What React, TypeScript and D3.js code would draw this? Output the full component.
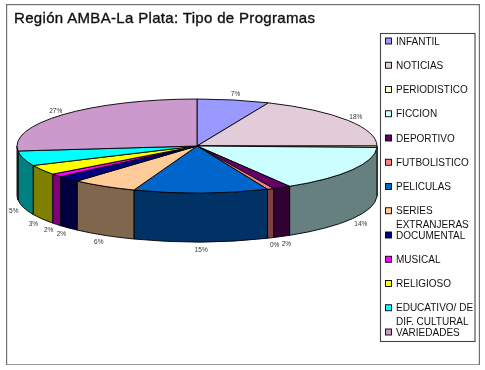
import React from "react";
import * as d3 from "d3";

const categories = ["INFANTIL","NOTICIAS","PERIODISTICO","FICCION","DEPORTIVO","FUTBOLISTICO","PELICULAS","SERIES EXTRANJERAS","DOCUMENTAL","MUSICAL","RELIGIOSO","EDUCATIVO/ DE DIF. CULTURAL","VARIEDADES"];
// Shares as read from the drawn slice edges
const shares = [6.5,18.5,0.5,15.9,1.6,0.6,12.1,5.9,2.1,1.1,3.4,5.1,26.7];
// Percent labels printed on the picture
const percentLabels = ["7%","18%","","14%","2%","0%","15%","6%","2%","2%","3%","5%","27%"];
const topColors = ["#9999ff","#e3ccd9","#ffffcc","#ccffff","#660066","#ff8080","#0066cc","#ffcc99","#000080","#ff00ff","#ffff00","#00ffff","#cc99cc"];
const sideColors = ["#4d4d80","#72666d","#808066","#668080","#330033","#804040","#003366","#80664d","#000040","#800080","#808000","#008080","#664d66"];
const legendLines = [["INFANTIL"],["NOTICIAS"],["PERIODISTICO"],["FICCION"],["DEPORTIVO"],["FUTBOLISTICO"],["PELICULAS"],["SERIES","EXTRANJERAS"],["DOCUMENTAL"],["MUSICAL"],["RELIGIOSO"],["EDUCATIVO/ DE","DIF. CULTURAL"],["VARIEDADES"]];

const cx = 197, cy = 146, rx = 180, ry = 47, depth = 49;
const FONT = "'Liberation Sans', Arial, sans-serif";

const pt = (a: number, dy = 0) => [cx + rx * Math.sin(a), cy - ry * Math.cos(a) + dy];

export default function App() {
  const arcs = d3.pie<number>().sort(null)(shares);
  const legendY = d3.scaleLinear().domain([0, categories.length - 1]).range([41, 332]);
  const wall = (a0: number, a1: number) => {
    const s = Math.max(a0, Math.PI / 2), e = Math.min(a1, 3 * Math.PI / 2);
    if (e <= s) return null;
    const [x0, y0] = pt(s), [x1, y1] = pt(e);
    return `M${x0},${y0}A${rx},${ry} 0 0 1 ${x1},${y1}L${x1},${y1 + depth}A${rx},${ry} 0 0 0 ${x0},${y0 + depth}Z`;
  };
  const slice = (a0: number, a1: number) => {
    const [x0, y0] = pt(a0), [x1, y1] = pt(a1);
    return `M${cx},${cy}L${x0},${y0}A${rx},${ry} 0 ${a1 - a0 > Math.PI ? 1 : 0} 1 ${x1},${y1}Z`;
  };
  return (
    <svg width={485} height={370} style={{ position: "absolute", left: 0, top: 0, background: "#fff" }}>
      <defs>
        <filter id="soft" x="0" y="0" width="100%" height="100%">
          <feGaussianBlur stdDeviation={0.4} />
        </filter>
      </defs>
      <g filter="url(#soft)">
        <rect x={6.5} y={4.5} width={473} height={360.5} fill="#fff" stroke="#707070" strokeWidth={1.4} />
        <text x={14} y={23} fontFamily={FONT} fontSize={15} fontWeight={400} stroke="#111" strokeWidth={0.35} fill="#111" textLength={301} lengthAdjust="spacing">Región AMBA-La Plata: Tipo de Programas</text>
        <g stroke="#000" strokeWidth={0.9} strokeLinejoin="round">
          {arcs.map((d, i) => {
            const p = wall(d.startAngle, d.endAngle);
            return p ? <path key={i} d={p} fill={sideColors[i]} /> : null;
          })}
          {arcs.map((d, i) => (
            <path key={i} d={slice(d.startAngle, d.endAngle)} fill={topColors[i]} />
          ))}
        </g>
        <g fontFamily={FONT} fontSize={6.5} fill="#333" textAnchor="middle">
          {arcs.map((d, i) => {
            const m = (d.startAngle + d.endAngle) / 2;
            const front = Math.cos(m) < 0;
            const x = cx + 190 * Math.sin(m);
            const y = cy - 53 * Math.cos(m) + (front ? depth + 2 : 0) + 2;
            return <text key={i} x={x} y={y}>{percentLabels[i]}</text>;
          })}
        </g>
        <rect x={380.5} y={33.5} width={94.5} height={308} fill="#fff" stroke="#444" strokeWidth={1.1} />
        <g fontFamily={FONT} fontSize={10} fill="#111">
          {categories.map((c, i) => {
            const y = legendY(i);
            return (
              <g key={c}>
                <rect x={385.5} y={y - 3} width={6} height={6} fill={topColors[i]} stroke="#000" strokeWidth={0.9} />
                {legendLines[i].map((l, j) => (
                  <text key={l} x={396} y={y + 3.5 + j * 14}>{l}</text>
                ))}
              </g>
            );
          })}
        </g>
      </g>
    </svg>
  );
}
